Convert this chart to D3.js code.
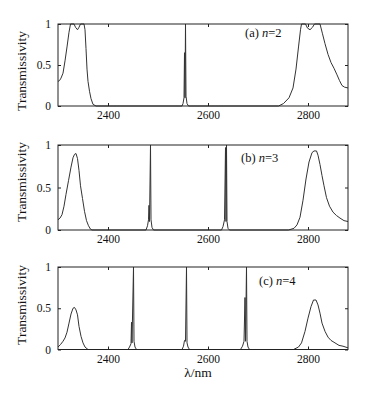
<!DOCTYPE html>
<html><head><meta charset="utf-8">
<script src="https://cdn.jsdelivr.net/npm/d3@7/dist/d3.min.js"></script>
<style>body{margin:0;background:#fff}svg{display:block}</style>
</head><body>
<svg id="c" width="369" height="394"></svg>
<script>
const lambdaA = [2300,2303,2306,2310,2314,2318,2322,2325,2332,2335,2339,2342,2345,2352,2354,2356,2358,2360,2363,2366,2370,2376,
 2548,2550,2552,2553,2554,2555,2556,2558,2561,
 2741,2751,2762,2770,2776,2781,2785,2787,2795,2799,2804,2809,2813,2824,2829,2834,2840,2846,2852,2858,2863,2868,2873,2880];
const transA = [0.30,0.31,0.34,0.40,0.55,0.72,0.90,1.0,1.0,0.96,0.93,0.96,1.0,1.0,0.93,0.70,0.45,0.30,0.18,0.09,0.02,0,
 0,0.03,0.10,0.65,0.10,1.0,0.12,0.03,0,
 0,0.03,0.10,0.22,0.45,0.72,0.93,1.0,1.0,0.95,0.93,0.96,1.0,1.0,0.88,0.76,0.63,0.53,0.46,0.38,0.31,0.25,0.23,0.22];

const lambdaB = [2300,2304,2308,2312,2316,2321,2326,2330,2333,2336,2339,2342,2345,2349,2353,2357,2361,2365,2368,
 2476,2479,2481,2482,2483,2485,2486,2488,2491,
 2627,2630,2633,2635,2636,2637,2638,2640,2643,
 2761,2772,2778,2784,2790,2796,2802,2808,2812,2817,2820,2824,2828,2832,2837,2843,2850,2857,2864,2872,2880];
const transB = [0.12,0.14,0.18,0.28,0.42,0.58,0.74,0.85,0.89,0.90,0.84,0.70,0.52,0.37,0.22,0.11,0.05,0.01,0,
 0,0.05,0.12,0.29,0.10,1.0,0.12,0.03,0,
 0,0.04,0.12,0.97,0.10,1.0,0.10,0.02,0,
 0,0.02,0.06,0.15,0.35,0.60,0.80,0.91,0.93,0.93,0.88,0.77,0.64,0.52,0.38,0.28,0.21,0.17,0.14,0.11,0.10];

const lambdaC = [2300,2305,2310,2314,2318,2322,2326,2330,2333,2336,2339,2342,2346,2350,2354,2360,
 2440,2443,2446,2447,2448,2451,2452,2454,2457,
 2548,2551,2553,2555,2557,2558,2560,2563,
 2665,2669,2672,2674,2675,2677,2678,2680,2683,
 2771,2781,2787,2794,2800,2806,2811,2816,2820,2824,2828,2834,2840,2846,2854,2862,2870,2880];
const transC = [0.03,0.06,0.10,0.14,0.21,0.32,0.43,0.50,0.51,0.48,0.42,0.28,0.16,0.08,0.03,0,
 0,0.03,0.07,0.33,0.08,1.0,0.10,0.03,0,
 0,0.04,0.11,0.10,1.0,0.08,0.03,0,
 0,0.04,0.10,0.63,0.10,1.0,0.10,0.03,0,
 0,0.03,0.08,0.22,0.38,0.52,0.60,0.60,0.54,0.44,0.32,0.22,0.15,0.11,0.08,0.05,0.04,0.02];

const xTicks = [2400, 2600, 2800];
const yTicks = [0, 0.5, 1];
const yTickLabels = ["0", "0.5", "1"];
const panelTags = ["(a) ", "(b) ", "(c) "];
const panelN = ["2", "3", "4"];

const panels = [
  {lam: lambdaA, t: transA, top: 24, bot: 106, lblY: 71, tagX: 245, tagY: 37},
  {lam: lambdaB, t: transB, top: 145, bot: 230, lblY: 182, tagX: 241, tagY: 162},
  {lam: lambdaC, t: transC, top: 267, bot: 349.5, lblY: 305, tagX: 259, tagY: 285}
];

const svg = d3.select("#c");
const x = d3.scaleLinear().domain([2300, 2880]).range([58, 348]);
const ink = "#222";
const font = "'Liberation Serif','Times New Roman',serif";

panels.forEach((p, i) => {
  const y = d3.scaleLinear().domain([0, 1]).range([p.bot, p.top]);
  const g = svg.append("g");
  const line = d3.line().x((d, k) => x(p.lam[k])).y(d => y(d));
  g.append("path").attr("d", line(p.t)).attr("fill", "none")
    .attr("stroke", "#333").attr("stroke-width", 1).attr("stroke-linejoin", "round");
  // box
  g.append("rect").attr("x", x.range()[0]).attr("y", p.top)
    .attr("width", x.range()[1] - x.range()[0]).attr("height", p.bot - p.top)
    .attr("fill", "none").attr("stroke", ink).attr("stroke-width", 1);
  // axes
  const axB = d3.axisBottom(x).tickValues(xTicks).tickSizeInner(-3).tickSizeOuter(0).tickPadding(5).tickFormat(d3.format("d"));
  const axT = d3.axisTop(x).tickValues(xTicks).tickSizeInner(-3).tickSizeOuter(0).tickFormat("");
  const axL = d3.axisLeft(y).tickValues(yTicks).tickSizeInner(-3).tickSizeOuter(0).tickPadding(7).tickFormat((d, k) => yTickLabels[k]);
  const axR = d3.axisRight(y).tickValues(yTicks).tickSizeInner(-3).tickSizeOuter(0).tickFormat("");
  [[axB, `translate(0,${p.bot})`], [axT, `translate(0,${p.top})`],
   [axL, `translate(${x.range()[0]},0)`], [axR, `translate(${x.range()[1]},0)`]].forEach(([ax, tr]) => {
    const a = g.append("g").attr("transform", tr).call(ax);
    a.select(".domain").remove();
    a.selectAll("line").attr("stroke", ink);
    a.selectAll("text").attr("fill", "#111").style("font-family", font).style("font-size", "11.5px");
  });
  g.append("text").attr("transform", `translate(26,${p.lblY}) rotate(-90)`)
    .attr("text-anchor", "middle").style("font-family", font).style("font-size", "13.5px")
    .attr("fill", "#111").text("Transmissivity");
  const tag = g.append("text").attr("x", p.tagX).attr("y", p.tagY)
    .style("font-family", font).style("font-size", "12.5px").attr("fill", "#111");
  tag.append("tspan").text(panelTags[i]);
  tag.append("tspan").style("font-style", "italic").text("n");
  tag.append("tspan").text("=" + panelN[i]);
});

const xl = svg.append("text").attr("x", 198).attr("y", 377).attr("text-anchor", "middle")
  .style("font-family", font).style("font-size", "13.5px").attr("fill", "#111");
xl.append("tspan").text("λ");
xl.append("tspan").text("/nm");
</script>
</body></html>
